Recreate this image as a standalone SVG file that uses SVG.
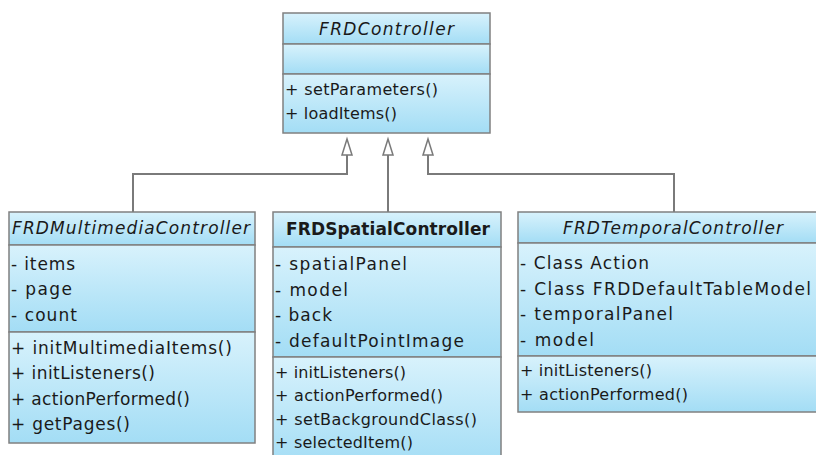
<svg xmlns="http://www.w3.org/2000/svg" width="816" height="455" viewBox="0 0 816 455">
<defs>
<linearGradient id="g" x1="0" y1="0" x2="0" y2="1">
<stop offset="0" stop-color="#d8f2fc"/>
<stop offset="1" stop-color="#a3ddf5"/>
</linearGradient>
</defs>
<style>
.sec{fill:url(#g);stroke:#808080;stroke-width:1.5}
.t{font-family:"DejaVu Sans",Verdana,sans-serif;font-size:16px;fill:#1a1a1a}
.h{font-family:"DejaVu Sans",Verdana,sans-serif;font-size:17px;fill:#1a1a1a;text-anchor:middle}
.L{font-size:17px}
.i{font-style:italic}
.b{font-weight:bold}
.c{fill:none;stroke:#7a7a7a;stroke-width:2}
.a{fill:#fff;stroke:#7a7a7a;stroke-width:1.5}
</style>
<rect width="816" height="455" fill="#fff"/>
<g id="connectors">
<polyline class="c" points="347,155 347,174 133,174 133,212"/>
<polyline class="c" points="388,155 388,212"/>
<polyline class="c" points="428,155 428,174 674,174 674,212"/>
<polygon class="a" points="347,139 342,155 352,155"/>
<polygon class="a" points="388,139 383,155 393,155"/>
<polygon class="a" points="428,139 423,155 433,155"/>
</g>
<g id="FRDController">
<rect class="sec" x="283" y="13" width="207" height="31"/>
<rect class="sec" x="283" y="44" width="207" height="30"/>
<rect class="sec" x="283" y="74" width="207" height="59"/>
<text class="h i" x="386.5" y="35" textLength="135">FRDController</text>
<text class="t" x="285" y="95" textLength="153">+ setParameters()</text>
<text class="t" x="285" y="119" textLength="112">+ loadItems()</text>
</g>
<g id="FRDMultimediaController">
<rect class="sec" x="9" y="212" width="246" height="33"/>
<rect class="sec" x="9" y="245" width="246" height="87"/>
<rect class="sec" x="9" y="332" width="246" height="111"/>
<text class="h i" x="131" y="234" textLength="238">FRDMultimediaController</text>
<text class="t L" x="11" y="270" textLength="64">- items</text>
<text class="t L" x="11" y="295" textLength="61">- page</text>
<text class="t L" x="11" y="321" textLength="66">- count</text>
<text class="t L" x="11" y="354" textLength="221">+ initMultimediaItems()</text>
<text class="t L" x="11" y="379" textLength="144">+ initListeners()</text>
<text class="t L" x="11" y="405" textLength="179">+ actionPerformed()</text>
<text class="t L" x="11" y="430" textLength="119">+ getPages()</text>
</g>
<g id="FRDSpatialController">
<rect class="sec" x="273" y="212" width="228" height="35"/>
<rect class="sec" x="273" y="247" width="228" height="110"/>
<rect class="sec" x="273" y="357" width="228" height="110"/>
<text class="h b" x="388" y="235" textLength="204">FRDSpatialController</text>
<text class="t L" x="275" y="270" textLength="132">- spatialPanel</text>
<text class="t L" x="275" y="296" textLength="73">- model</text>
<text class="t L" x="275" y="321" textLength="57">- back</text>
<text class="t L" x="275" y="347" textLength="189">- defaultPointImage</text>
<text class="t" x="275" y="378" textLength="131">+ initListeners()</text>
<text class="t" x="275" y="401" textLength="168">+ actionPerformed()</text>
<text class="t" x="275" y="425" textLength="202">+ setBackgroundClass()</text>
<text class="t" x="275" y="448" textLength="138">+ selectedItem()</text>
</g>
<g id="FRDTemporalController">
<rect class="sec" x="518" y="212" width="302" height="31"/>
<rect class="sec" x="518" y="243" width="302" height="113"/>
<rect class="sec" x="518" y="356" width="302" height="56"/>
<text class="h i" x="673" y="234" textLength="220">FRDTemporalController</text>
<text class="t L" x="520" y="269" textLength="129">- Class Action</text>
<text class="t L" x="520" y="295" textLength="291">- Class FRDDefaultTableModel</text>
<text class="t L" x="520" y="320" textLength="153">- temporalPanel</text>
<text class="t L" x="520" y="346" textLength="74">- model</text>
<text class="t" x="520" y="376" textLength="132">+ initListeners()</text>
<text class="t" x="520" y="400" textLength="168">+ actionPerformed()</text>
</g>
</svg>
